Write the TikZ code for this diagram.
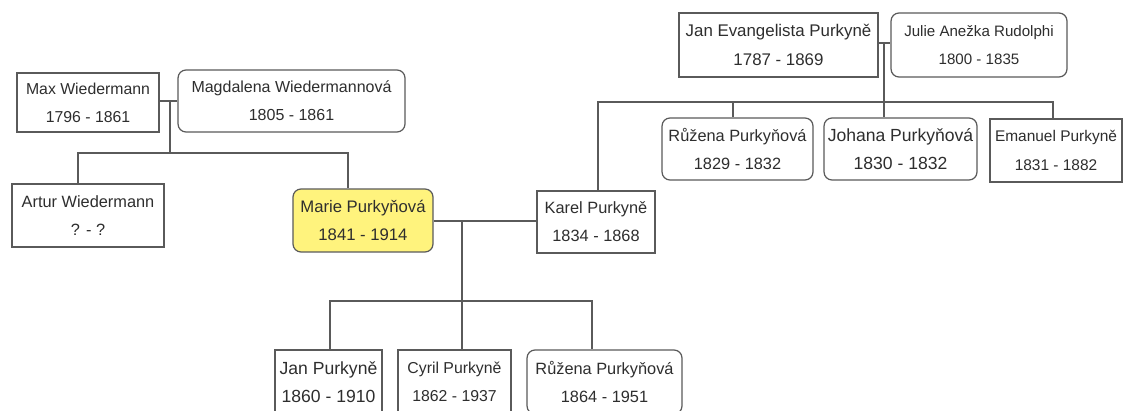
\documentclass[tikz,border=0pt]{standalone}
\usepackage{fontspec}
\setmainfont{Liberation Sans}
\newcommand\fsz[1]{\fontsize{#1}{16}\selectfont}
\definecolor{linegray}{HTML}{5A5A5A}
\definecolor{textcol}{HTML}{2E2E2E}
\definecolor{hiyellow}{HTML}{FFF37D}
\tikzset{
  person/.style={draw=linegray, line width=0.7pt, align=center, inner sep=0pt, text=textcol, font=\fsz{9.3}},
  sq/.style={person},
  rnd/.style={person, rounded corners=0.16cm},
  link/.style={draw=linegray, line width=0.8pt},
}
\begin{document}
\begin{tikzpicture}[x=0.02cm, y=-0.02cm]
\useasboundingbox[fill=white] (0,0) rectangle (1124,411);
% nodes
\node[sq, minimum width=2.84cm, minimum height=1.18cm, font=\fsz{9}] (max) at (88,102.5) {Max Wiedermann\\1796 - 1861};
\node[rnd, minimum width=4.54cm, minimum height=1.24cm, font=\fsz{9.1}] (mag) at (291.5,101) {Magdalena Wiedermannová\\1805 - 1861};
\node[sq, minimum width=3.04cm, minimum height=1.26cm] (artur) at (88,215.5) {Artur Wiedermann\\? - ?};
\node[rnd, fill=hiyellow, minimum width=2.8cm, minimum height=1.26cm, font=\fsz{9.5}] (marie) at (363,220.5) {Marie Purkyňová\\1841 - 1914};
\node[sq, minimum width=2.36cm, minimum height=1.24cm] (karel) at (596,222) {Karel Purkyně\\1834 - 1868};
\node[sq, minimum width=3.98cm, minimum height=1.28cm, font=\fsz{9.6}] (janev) at (778.5,45) {Jan Evangelista Purkyně\\1787 - 1869};
\node[rnd, minimum width=3.52cm, minimum height=1.28cm, font=\fsz{8.6}] (julie) at (979,45) {Julie Anežka Rudolphi\\1800 - 1835};
\node[rnd, minimum width=3.02cm, minimum height=1.24cm] (ruz1) at (737.5,149) {Růžena Purkyňová\\1829 - 1832};
\node[rnd, minimum width=3.06cm, minimum height=1.24cm, font=\fsz{10}] (johana) at (900.5,149) {Johana Purkyňová\\1830 - 1832};
\node[sq, minimum width=2.64cm, minimum height=1.26cm, font=\fsz{8.8}] (emanuel) at (1056,150.5) {Emanuel Purkyně\\1831 - 1882};
\node[sq, minimum width=2.14cm, minimum height=1.28cm, font=\fsz{10}] (jan) at (328.5,382) {Jan Purkyně\\1860 - 1910};
\node[sq, minimum width=2.26cm, minimum height=1.28cm, font=\fsz{9}] (cyril) at (454.5,382) {Cyril Purkyně\\1862 - 1937};
\node[rnd, minimum width=3.1cm, minimum height=1.28cm] (ruz2) at (604.5,382) {Růžena Purkyňová\\1864 - 1951};
% junction coordinates
\coordinate (mm) at (170,101);
\coordinate (mbar) at (170,153);
\coordinate (aL) at (78,153);
\coordinate (aR) at (348,153);
\coordinate (kk) at (462,221);
\coordinate (kbar) at (462,301);
\coordinate (cL) at (330,301);
\coordinate (cR) at (592,301);
\coordinate (jj) at (884,43);
\coordinate (jbar) at (884,102);
\coordinate (pL) at (598,102);
\coordinate (p1) at (733,102);
\coordinate (pR) at (1053,102);
% connectors
\draw[link] (max.east |- mm) -- (mag.west |- mm);
\draw[link] (mm) -- (mbar);
\draw[link] (artur.north -| aL) -- (aL) -- (aR) -- (marie.north -| aR);
\draw[link] (marie.east |- kk) -- (karel.west |- kk);
\draw[link] (kk) -- (kbar);
\draw[link] (jan.north -| cL) -- (cL) -- (cR) -- (ruz2.north -| cR);
\draw[link] (kbar) -- (cyril.north -| kbar);
\draw[link] (janev.east |- jj) -- (julie.west |- jj);
\draw[link] (jj) -- (johana.north -| jbar);
\draw[link] (karel.north -| pL) -- (pL) -- (pR) -- (emanuel.north -| pR);
\draw[link] (p1) -- (ruz1.north -| p1);
\end{tikzpicture}
\end{document}
